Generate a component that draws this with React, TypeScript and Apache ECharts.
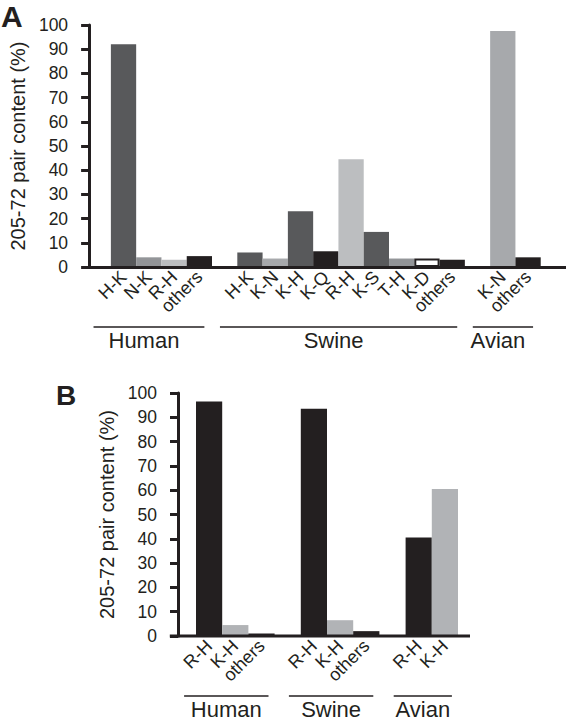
import React, { useEffect, useRef } from "react";
import * as echarts from "echarts";

// ---------- Data ----------
// Panel A
const humanA = ["H-K", "N-K", "R-H", "others"];
const humanAValues = [92, 4, 3, 4.5];
const swineA = ["H-K", "K-N", "K-H", "K-Q", "R-H", "K-S", "T-H", "K-D", "others"];
const swineAValues = [6, 3.5, 23, 6.5, 44.5, 14.5, 3.5, 3.5, 3];
const avianA = ["K-N", "others"];
const avianAValues = [97.5, 4];

// Panel B
const humanB = ["R-H", "K-H", "others"];
const humanBValues = [96.5, 4.5, 1];
const swineB = ["R-H", "K-H", "others"];
const swineBValues = [93.5, 6.5, 2];
const avianB = ["R-H", "K-H"];
const avianBValues = [40.5, 60.5];

const groupNames = ["Human", "Swine", "Avian"];
const axisName = "205-72 pair content (%)";
const panelLetters = ["A", "B"];

// ---------- Styles ----------
const DARK = "#58595b";
const MID = "#939598";
const LIGHT = "#bcbec0";
const LIGHT2 = "#a7a9ac";
const BLACK = "#231f20";
const B_LIGHT = "#b1b3b6";
const OUTLINE = "outline";

const humanAColors = [DARK, MID, LIGHT, BLACK];
const swineAColors = [DARK, LIGHT2, DARK, BLACK, LIGHT, DARK, MID, OUTLINE, BLACK];
const avianAColors = [LIGHT2, BLACK];
const humanBColors = [BLACK, B_LIGHT, BLACK];
const swineBColors = [BLACK, B_LIGHT, BLACK];
const avianBColors = [BLACK, B_LIGHT];

const FONT = "'Liberation Sans', Arial, Helvetica, sans-serif";
const SLOT = 26.2;

type Group = { labels: string[]; values: number[]; colors: string[] };

function build(groups: Group[], trailing: number) {
  const cats: string[] = [];
  const data: any[] = [];
  const ranges: [number, number][] = [];
  const pushGap = () => {
    cats.push(`${cats.length}|`);
    data.push("-");
  };
  pushGap();
  groups.forEach((g, gi) => {
    if (gi > 0) pushGap();
    const start = cats.length;
    g.labels.forEach((l, i) => {
      cats.push(`${cats.length}|${l}`);
      const c = g.colors[i];
      data.push({
        value: g.values[i],
        itemStyle:
          c === OUTLINE
            ? { color: "#ffffff", borderColor: BLACK, borderWidth: 2 }
            : { color: c },
      });
    });
    ranges.push([start, cats.length - 1]);
  });
  for (let i = 0; i < trailing; i++) pushGap();
  return { cats, data, ranges };
}

const panelA = build(
  [
    { labels: humanA, values: humanAValues, colors: humanAColors },
    { labels: swineA, values: swineAValues, colors: swineAColors },
    { labels: avianA, values: avianAValues, colors: avianAColors },
  ],
  1
);
const panelB = build(
  [
    { labels: humanB, values: humanBValues, colors: humanBColors },
    { labels: swineB, values: swineBValues, colors: swineBColors },
    { labels: avianB, values: avianBValues, colors: avianBColors },
  ],
  0
);

function xAxisOf(gridIndex: number, cats: string[], showLine: boolean) {
  return {
    type: "category",
    gridIndex,
    data: cats,
    z: 5,
    axisLine: { show: showLine, lineStyle: { color: BLACK, width: 3 } },
    axisTick: { show: false },
    axisLabel: {
      interval: 0,
      rotate: 45,
      margin: 7,
      fontSize: 18,
      color: BLACK,
      fontFamily: FONT,
      formatter: (v: string) => v.split("|")[1],
    },
    splitLine: { show: false },
  };
}

function yAxisOf(gridIndex: number, offset: number, nameGap: number) {
  return {
    type: "value",
    gridIndex,
    min: 0,
    max: 100,
    interval: 10,
    offset,
    z: 5,
    name: axisName,
    nameLocation: "middle",
    nameGap,
    nameTextStyle: { fontSize: 20, color: BLACK, fontFamily: FONT },
    axisLine: { show: true, lineStyle: { color: BLACK, width: 3 } },
    axisTick: { show: true, length: 8, lineStyle: { color: BLACK, width: 3 } },
    axisLabel: { fontSize: 17.5, margin: 21, color: BLACK, fontFamily: FONT },
    splitLine: { show: false },
  };
}

export default function App() {
  const ref = useRef<HTMLDivElement>(null);

  useEffect(() => {
    if (!ref.current) return;
    const chart = echarts.init(ref.current, undefined, { renderer: "svg" });
    chart.setOption({
      animation: false,
      textStyle: { fontFamily: FONT },
      grid: [
        { left: 79, top: 25, width: panelA.cats.length * SLOT, height: 242 },
        { left: 169.8, top: 393, width: panelB.cats.length * SLOT, height: 243 },
      ],
      xAxis: [xAxisOf(0, panelA.cats, true), xAxisOf(1, panelB.cats, false)],
      yAxis: [yAxisOf(0, -3.5, 55), yAxisOf(1, -8.2, 57)],
      series: [
        {
          type: "bar",
          xAxisIndex: 0,
          yAxisIndex: 0,
          data: panelA.data,
          barCategoryGap: "0%",
        },
        {
          type: "bar",
          xAxisIndex: 1,
          yAxisIndex: 1,
          data: panelB.data,
          barCategoryGap: "0%",
        },
      ],
    });

    const gfx: any[] = [];
    const addGroups = (
      axisIdx: number,
      ranges: [number, number][],
      zeroY: number,
      left: number,
      right: number,
      dx: number
    ) => {
      ranges.forEach(([s, e], i) => {
        const x1 = (chart.convertToPixel({ xAxisIndex: axisIdx } as any, s) as number) - left;
        const x2 = (chart.convertToPixel({ xAxisIndex: axisIdx } as any, e) as number) + right;
        const lineY = zeroY + 60;
        gfx.push({
          type: "line",
          silent: true,
          shape: { x1, y1: lineY, x2, y2: lineY },
          style: { stroke: BLACK, lineWidth: 1.5 },
        });
        gfx.push({
          type: "text",
          silent: true,
          x: (x1 + x2) / 2 + dx,
          y: lineY + 13.5,
          style: {
            text: groupNames[i],
            fontSize: 22,
            fontFamily: FONT,
            fill: BLACK,
            textAlign: "center",
            textVerticalAlign: "middle",
          },
        });
      });
    };
    const zeroA = chart.convertToPixel({ yAxisIndex: 0 } as any, 0) as number;
    const zeroB = chart.convertToPixel({ yAxisIndex: 1 } as any, 0) as number;
    addGroups(0, panelA.ranges, zeroA, 30, 5, -5);
    addGroups(1, panelB.ranges, zeroB, 25, 7, 0);

    // baseline for panel B
    const lastB = chart.convertToPixel({ xAxisIndex: 1 } as any, panelB.cats.length - 1) as number;
    gfx.push({
      type: "line",
      silent: true,
      z: 10,
      shape: { x1: 169.8, y1: zeroB, x2: lastB + SLOT / 2 + 12, y2: zeroB },
      style: { stroke: BLACK, lineWidth: 3 },
    });

    gfx.push({
      type: "text",
      x: 1,
      y: 16,
      style: {
        text: panelLetters[0],
        fontSize: 30,
        fontWeight: "bold",
        fontFamily: FONT,
        fill: BLACK,
        textAlign: "left",
        textVerticalAlign: "middle",
      },
    });
    gfx.push({
      type: "text",
      x: 56,
      y: 395,
      style: {
        text: panelLetters[1],
        fontSize: 28,
        fontWeight: "bold",
        fontFamily: FONT,
        fill: BLACK,
        textAlign: "left",
        textVerticalAlign: "middle",
      },
    });

    chart.setOption({ graphic: gfx });

    return () => chart.dispose();
  }, []);

  return (
    <div
      ref={ref}
      style={{ position: "absolute", left: 0, top: 0, width: 566, height: 725, background: "#fff" }}
    />
  );
}
